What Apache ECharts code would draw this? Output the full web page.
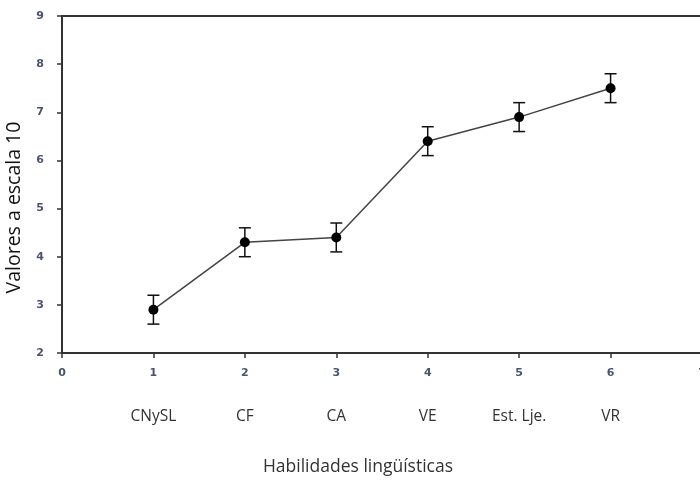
<!DOCTYPE html>
<html>
<head>
<meta charset="utf-8">
<script src="https://cdn.jsdelivr.net/npm/echarts@6/dist/echarts.min.js"></script>
<style>
  html, body { margin: 0; padding: 0; background: #fff; }
  #chart { width: 700px; height: 481px; }
</style>
</head>
<body>
<div id="chart"></div>
<script>
// habilidades lingüísticas, media y error
const positions = [1, 2, 3, 4, 5, 6];
const skills = ['CNySL', 'CF', 'CA', 'VE', 'Est. Lje.', 'VR'];
const means = [2.9, 4.3, 4.4, 6.4, 6.9, 7.5];
const errLow = [2.6, 4.0, 4.1, 6.1, 6.6, 7.2];
const errHigh = [3.2, 4.6, 4.7, 6.7, 7.2, 7.8];

const axisColor = '#333';
const tickFont = { fontSize: 11, fontWeight: 'bold', color: '#4a5470', fontFamily: 'DejaVu Sans' };

const chart = echarts.init(document.getElementById('chart'));

const option = {
  animation: false,
  backgroundColor: '#fff',
  grid: { left: 62, top: 16, width: 640, height: 337, outerBoundsMode: 'none' },
  xAxis: [
    {
      type: 'value',
      min: 0,
      max: 7,
      interval: 1,
      position: 'bottom',
      splitLine: { show: false },
      axisLine: { lineStyle: { color: axisColor, width: 2 } },
      axisTick: { length: 5, lineStyle: { color: axisColor, width: 1.5 } },
      axisLabel: Object.assign({ margin: 15 }, tickFont)
    },
    {
      type: 'value',
      min: 0,
      max: 7,
      interval: 1,
      position: 'bottom',
      splitLine: { show: false },
      axisLine: { show: false },
      axisTick: { show: false },
      axisLabel: {
        margin: 56,
        fontSize: 15.5,
        color: '#333',
        fontFamily: 'Open Sans',
        formatter: v => {
          const i = positions.indexOf(v);
          return i >= 0 ? skills[i] : '';
        }
      },
      name: 'Habilidades lingüísticas',
      nameLocation: 'middle',
      nameGap: 105,
      nameTextStyle: { fontSize: 17.5, color: '#333', fontFamily: 'Open Sans', padding: [0, 48, 0, 0] }
    },
    {
      type: 'value',
      min: 0,
      max: 7,
      position: 'top',
      splitLine: { show: false },
      axisLine: { lineStyle: { color: axisColor, width: 2 } },
      axisTick: { show: false },
      axisLabel: { show: false }
    }
  ],
  yAxis: {
    type: 'value',
    min: 2,
    max: 9,
    interval: 1,
    splitLine: { show: false },
    axisLine: { show: true, lineStyle: { color: axisColor, width: 2 } },
    axisTick: { show: true, length: 5, lineStyle: { color: axisColor, width: 1.5 } },
    axisLabel: Object.assign({ margin: 18 }, tickFont),
    name: 'Valores a escala 10',
    nameLocation: 'middle',
    nameGap: 38,
    nameTextStyle: { fontSize: 19.5, color: '#111', fontFamily: 'Open Sans', padding: [0, 46, 0, 0] }
  },
  series: [
    {
      type: 'line',
      data: positions.map((x, i) => [x, means[i]]),
      symbol: 'circle',
      symbolSize: 10,
      itemStyle: { color: '#000' },
      lineStyle: { color: '#444', width: 1.5 },
      z: 3
    },
    {
      type: 'custom',
      data: positions.map((x, i) => [x, errLow[i], errHigh[i]]),
      renderItem: (params, api) => {
        const lo = api.coord([api.value(0), api.value(1)]);
        const hi = api.coord([api.value(0), api.value(2)]);
        const w = 6;
        const style = { stroke: '#111', lineWidth: 1.5 };
        return {
          type: 'group',
          children: [
            { type: 'line', shape: { x1: lo[0], y1: lo[1], x2: hi[0], y2: hi[1] }, style },
            { type: 'line', shape: { x1: lo[0] - w, y1: lo[1], x2: lo[0] + w, y2: lo[1] }, style },
            { type: 'line', shape: { x1: hi[0] - w, y1: hi[1], x2: hi[0] + w, y2: hi[1] }, style }
          ]
        };
      },
      z: 2
    }
  ]
};

chart.setOption(option);
</script>
</body>
</html>
